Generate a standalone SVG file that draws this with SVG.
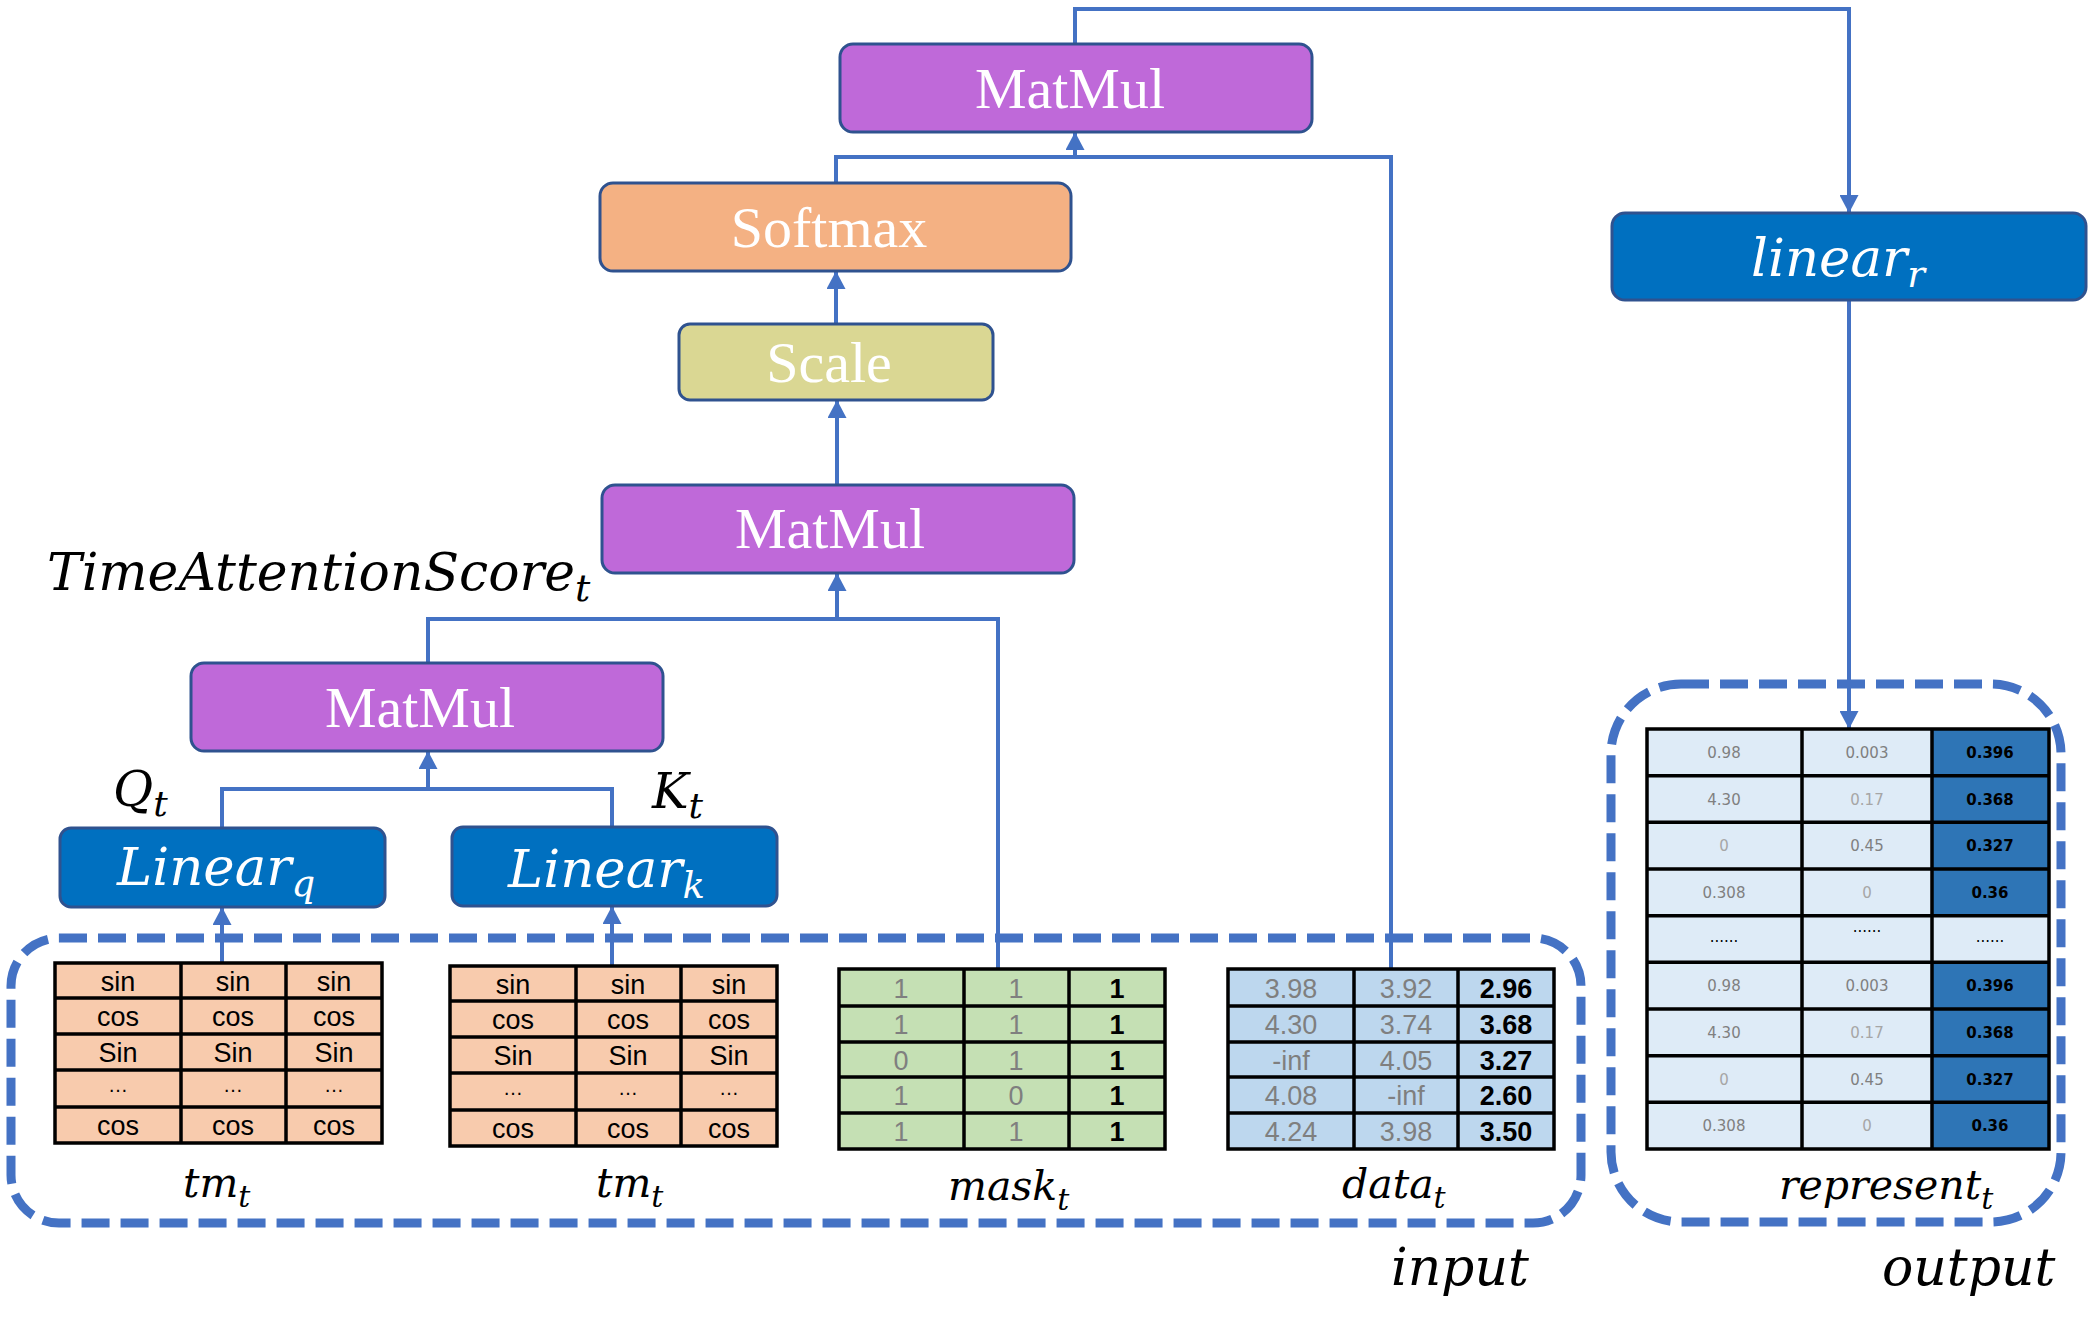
<svg xmlns="http://www.w3.org/2000/svg" width="2094" height="1329" viewBox="0 0 2094 1329">
<defs>
<marker id="arr" viewBox="0 0 10 10" refX="10" refY="5" markerWidth="18" markerHeight="19" markerUnits="userSpaceOnUse" orient="auto" preserveAspectRatio="none"><path d="M0,0 L10,5 L0,10 z" fill="#4472C4"/></marker>
<style>
.box{stroke:#2F528F;stroke-width:3}
.mm{fill:#BF69D9}
.lin{fill:#0070C0}
.lbl{font-family:"Liberation Serif","Times New Roman",serif;font-size:58px;fill:#fff;text-anchor:middle}
.math{font-family:"DejaVu Serif",serif;font-style:italic;fill:#000}
.wm{fill:#fff;font-size:53px}
.conn{fill:none;stroke:#4472C4;stroke-width:4}
.dash{fill:none;stroke:#4472C4;stroke-width:9;stroke-dasharray:28 11}
.grid{fill:none;stroke:#000;stroke-width:3.5}
.tc{font-family:"Liberation Sans",Arial,sans-serif;font-size:27px;text-anchor:middle;fill:#000}
.g{fill:#7F7F7F}
.b{font-weight:bold;fill:#000}
.oc{font-family:"DejaVu Sans",Verdana,sans-serif;font-size:15px;text-anchor:middle;fill:#808080}
.ob{font-weight:bold;fill:#000}
.lg{fill:#A6A6A6}
.dots{fill:#000}
</style>
</defs>
<rect width="2094" height="1329" fill="#fff"/>

<g id="input-box"><rect class="dash" x="11" y="938" width="1570" height="285" rx="48"/></g>
<g id="output-box"><rect class="dash" x="1611" y="684" width="450" height="538" rx="70"/></g>

<g id="connectors">
<path class="conn" d="M222,963 L222,907" marker-end="url(#arr)"/>
<path class="conn" d="M612,966 L612,906" marker-end="url(#arr)"/>
<path class="conn" d="M222,828 L222,789 L612,789 L612,827"/>
<path class="conn" d="M428,789 L428,751" marker-end="url(#arr)"/>
<path class="conn" d="M428,663 L428,619 L998,619 L998,969"/>
<path class="conn" d="M837,619 L837,573" marker-end="url(#arr)"/>
<path class="conn" d="M837,485 L837,400" marker-end="url(#arr)"/>
<path class="conn" d="M836,324 L836,271" marker-end="url(#arr)"/>
<path class="conn" d="M836,183 L836,157 L1391,157 L1391,969"/>
<path class="conn" d="M1075,157 L1075,132" marker-end="url(#arr)"/>
<path class="conn" d="M1075,44 L1075,9 L1849,9 L1849,213" marker-end="url(#arr)"/>
<path class="conn" d="M1849,300 L1849,729" marker-end="url(#arr)"/>
</g>

<g id="matmul-top"><rect class="box mm" x="840" y="44" width="472" height="88" rx="13"/><text class="lbl" x="1070" y="108">MatMul</text></g>
<g id="softmax"><rect class="box" fill="#F4B183" x="600" y="183" width="471" height="88" rx="13"/><text class="lbl" x="829" y="247">Softmax</text></g>
<g id="scale"><rect class="box" fill="#DAD793" x="679" y="324" width="314" height="76" rx="11"/><text class="lbl" x="829" y="382">Scale</text></g>
<g id="matmul-mid"><rect class="box mm" x="602" y="485" width="472" height="88" rx="13"/><text class="lbl" x="830" y="548">MatMul</text></g>
<g id="matmul-low"><rect class="box mm" x="191" y="663" width="472" height="88" rx="13"/><text class="lbl" x="420" y="727">MatMul</text></g>
<g id="linear-q"><rect class="box lin" x="60" y="828" width="325" height="79" rx="11"/><text class="math wm" x="117" y="885">Linear<tspan font-size="37" dy="11">q</tspan></text></g>
<g id="linear-k"><rect class="box lin" x="452" y="827" width="325" height="79" rx="11"/><text class="math wm" x="508" y="887">Linear<tspan font-size="37" dy="11">k</tspan></text></g>
<g id="linear-r"><rect class="box lin" x="1612" y="213" width="474" height="87" rx="13"/><text class="math wm" x="1751" y="276" font-size="52">linear<tspan font-size="37" dy="11">r</tspan></text></g>

<g id="labels">
<text class="math" x="47" y="590" font-size="52">TimeAttentionScore<tspan font-size="38" dy="11">t</tspan></text>
<text class="math" x="113" y="806" font-size="49">Q<tspan font-size="36" dy="10">t</tspan></text>
<text class="math" x="652" y="808" font-size="49">K<tspan font-size="36" dy="10">t</tspan></text>
<text class="math" x="183" y="1197" font-size="41">tm<tspan font-size="30" dy="10">t</tspan></text>
<text class="math" x="596" y="1197" font-size="41">tm<tspan font-size="30" dy="10">t</tspan></text>
<text class="math" x="948" y="1200" font-size="41">mask<tspan font-size="30" dy="10">t</tspan></text>
<text class="math" x="1342" y="1198" font-size="41">data<tspan font-size="30" dy="10">t</tspan></text>
<text class="math" x="1779" y="1199" font-size="41">represent<tspan font-size="30" dy="10">t</tspan></text>
<text class="math" x="1391" y="1285" font-size="52">input</text>
<text class="math" x="1882" y="1285" font-size="52">output</text>
</g>

<g id="tm-table-1">
<rect x="55" y="963" width="327" height="180" fill="#F8CBAD"/>
<path class="grid" d="M55,963 H382 V1143 H55 Z M55,998 H382 M55,1034 H382 M55,1070 H382 M55,1107 H382 M181,963 V1143 M286,963 V1143"/>
<g class="tc">
<text x="118" y="991">sin</text><text x="233" y="991">sin</text><text x="334" y="991">sin</text>
<text x="118" y="1026">cos</text><text x="233" y="1026">cos</text><text x="334" y="1026">cos</text>
<text x="118" y="1062">Sin</text><text x="233" y="1062">Sin</text><text x="334" y="1062">Sin</text>
<text x="118" y="1092" font-size="20">…</text><text x="233" y="1092" font-size="20">…</text><text x="334" y="1092" font-size="20">…</text>
<text x="118" y="1135">cos</text><text x="233" y="1135">cos</text><text x="334" y="1135">cos</text>
</g>
</g>

<g id="tm-table-2">
<rect x="450" y="966" width="327" height="180" fill="#F8CBAD"/>
<path class="grid" d="M450,966 H777 V1146 H450 Z M450,1001 H777 M450,1037 H777 M450,1073 H777 M450,1110 H777 M576,966 V1146 M681,966 V1146"/>
<g class="tc">
<text x="513" y="994">sin</text><text x="628" y="994">sin</text><text x="729" y="994">sin</text>
<text x="513" y="1029">cos</text><text x="628" y="1029">cos</text><text x="729" y="1029">cos</text>
<text x="513" y="1065">Sin</text><text x="628" y="1065">Sin</text><text x="729" y="1065">Sin</text>
<text x="513" y="1095" font-size="20">…</text><text x="628" y="1095" font-size="20">…</text><text x="729" y="1095" font-size="20">…</text>
<text x="513" y="1138">cos</text><text x="628" y="1138">cos</text><text x="729" y="1138">cos</text>
</g>
</g>

<g id="mask-table">
<rect x="839" y="969" width="326" height="180" fill="#C5E0B4"/>
<path class="grid" d="M839,969 H1165 V1149 H839 Z M839,1006 H1165 M839,1042 H1165 M839,1077 H1165 M839,1113 H1165 M964,969 V1149 M1069,969 V1149"/>
<g class="tc">
<text class="g" x="901" y="998">1</text><text class="g" x="1016" y="998">1</text><text class="b" x="1117" y="998">1</text>
<text class="g" x="901" y="1034">1</text><text class="g" x="1016" y="1034">1</text><text class="b" x="1117" y="1034">1</text>
<text class="g" x="901" y="1070">0</text><text class="g" x="1016" y="1070">1</text><text class="b" x="1117" y="1070">1</text>
<text class="g" x="901" y="1105">1</text><text class="g" x="1016" y="1105">0</text><text class="b" x="1117" y="1105">1</text>
<text class="g" x="901" y="1141">1</text><text class="g" x="1016" y="1141">1</text><text class="b" x="1117" y="1141">1</text>
</g>
</g>

<g id="data-table">
<rect x="1228" y="969" width="326" height="180" fill="#BDD7EE"/>
<path class="grid" d="M1228,969 H1554 V1149 H1228 Z M1228,1006 H1554 M1228,1042 H1554 M1228,1077 H1554 M1228,1113 H1554 M1354,969 V1149 M1458,969 V1149"/>
<g class="tc">
<text class="g" x="1291" y="998">3.98</text><text class="g" x="1406" y="998">3.92</text><text class="b" x="1506" y="998">2.96</text>
<text class="g" x="1291" y="1034">4.30</text><text class="g" x="1406" y="1034">3.74</text><text class="b" x="1506" y="1034">3.68</text>
<text class="g" x="1291" y="1070">-inf</text><text class="g" x="1406" y="1070">4.05</text><text class="b" x="1506" y="1070">3.27</text>
<text class="g" x="1291" y="1105">4.08</text><text class="g" x="1406" y="1105">-inf</text><text class="b" x="1506" y="1105">2.60</text>
<text class="g" x="1291" y="1141">4.24</text><text class="g" x="1406" y="1141">3.98</text><text class="b" x="1506" y="1141">3.50</text>
</g>
</g>

<g id="represent-table">
<rect x="1647" y="729" width="402" height="420" fill="#DEEBF7"/>
<rect x="1932" y="729" width="117" height="186.7" fill="#2E75B6"/>
<rect x="1932" y="962.3" width="117" height="186.7" fill="#2E75B6"/>
<path class="grid" d="M1647,729 H2049 V1149 H1647 Z M1647,775.7 H2049 M1647,822.3 H2049 M1647,869 H2049 M1647,915.7 H2049 M1647,962.3 H2049 M1647,1009 H2049 M1647,1055.7 H2049 M1647,1102.3 H2049 M1802,729 V1149 M1932,729 V1149"/>
<g class="oc">
<text x="1724" y="758">0.98</text><text x="1867" y="758">0.003</text><text class="ob" x="1990" y="758">0.396</text>
<text x="1724" y="805">4.30</text><text class="lg" x="1867" y="805">0.17</text><text class="ob" x="1990" y="805">0.368</text>
<text class="lg" x="1724" y="851">0</text><text x="1867" y="851">0.45</text><text class="ob" x="1990" y="851">0.327</text>
<text x="1724" y="898">0.308</text><text class="lg" x="1867" y="898">0</text><text class="ob" x="1990" y="898">0.36</text>
<text class="dots" x="1724" y="942">......</text><text class="dots" x="1867" y="932">......</text><text class="dots" x="1990" y="942">......</text>
<text x="1724" y="991">0.98</text><text x="1867" y="991">0.003</text><text class="ob" x="1990" y="991">0.396</text>
<text x="1724" y="1038">4.30</text><text class="lg" x="1867" y="1038">0.17</text><text class="ob" x="1990" y="1038">0.368</text>
<text class="lg" x="1724" y="1085">0</text><text x="1867" y="1085">0.45</text><text class="ob" x="1990" y="1085">0.327</text>
<text x="1724" y="1131">0.308</text><text class="lg" x="1867" y="1131">0</text><text class="ob" x="1990" y="1131">0.36</text>
</g>
</g>
</svg>
